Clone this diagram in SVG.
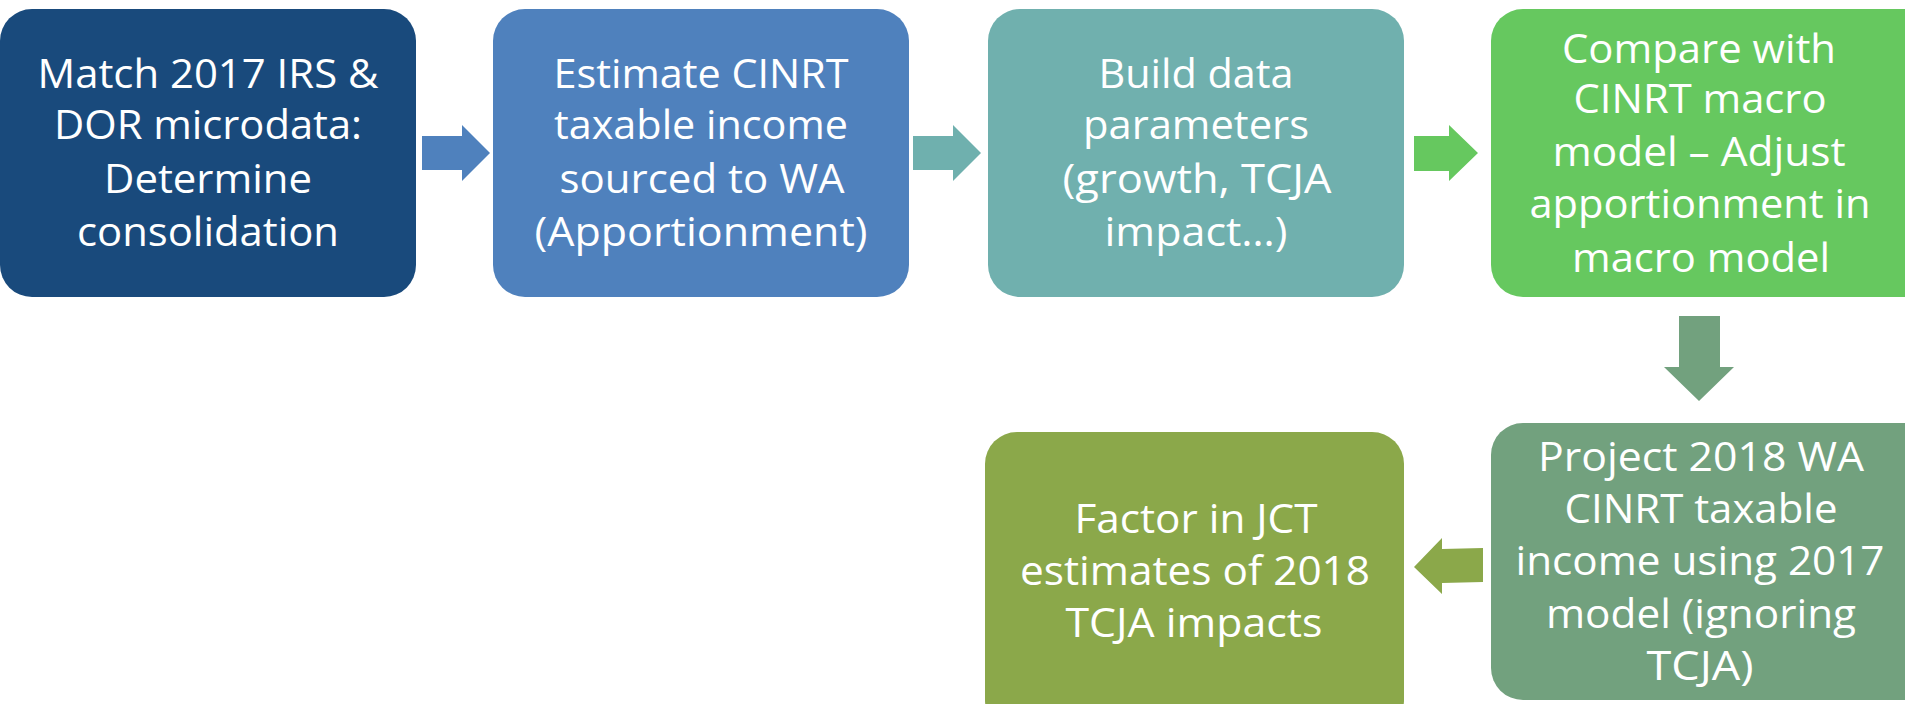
<svg xmlns="http://www.w3.org/2000/svg" width="1905" height="704" viewBox="0 0 1905 704">
<style>
text{font-family:"Open Sans","Noto Sans","Liberation Sans",sans-serif;font-size:40px;fill:#ffffff;text-anchor:middle}
</style>
<rect width="1905" height="704" fill="#ffffff"/>
<g id="connectors">
<polygon id="a1" fill="#4F81BD" points="422,136 462,136 462,125 490,153 462,181 462,170 422,170"/>
<polygon id="a2" fill="#6FB0AE" points="913,136 953,136 953,125 981,153 953,181 953,170 913,170"/>
<polygon id="a3" fill="#66C85F" points="1414,136 1449,136 1449,125 1478,153 1449,181 1449,171 1414,171"/>
<polygon id="a4" fill="#72A17E" points="1679,316 1720,316 1720,367 1734,367 1699,401 1664,367 1679,367"/>
<polygon id="a5" fill="#8BA84A" points="1483,548 1442,549 1442,538 1414,567 1442,594 1442,583 1483,582"/>
</g>
<g id="n1">
<rect x="0" y="9" width="416" height="288" rx="32" fill="#194A7C"/>
<text x="208" y="88" textLength="341" lengthAdjust="spacingAndGlyphs">Match 2017 IRS &amp;</text>
<text x="208" y="139" textLength="308" lengthAdjust="spacingAndGlyphs">DOR microdata:</text>
<text x="208" y="193" textLength="208" lengthAdjust="spacingAndGlyphs">Determine</text>
<text x="208" y="246" textLength="262" lengthAdjust="spacingAndGlyphs">consolidation</text>
</g>
<g id="n2">
<rect x="493" y="9" width="416" height="288" rx="32" fill="#4F81BD"/>
<text x="701" y="88" textLength="295" lengthAdjust="spacingAndGlyphs">Estimate CINRT</text>
<text x="701" y="139" textLength="294" lengthAdjust="spacingAndGlyphs">taxable income</text>
<text x="702" y="193" textLength="285" lengthAdjust="spacingAndGlyphs">sourced to WA</text>
<text x="701" y="246" textLength="333" lengthAdjust="spacingAndGlyphs">(Apportionment)</text>
</g>
<g id="n3">
<rect x="988" y="9" width="416" height="288" rx="32" fill="#70B0AE"/>
<text x="1196" y="88" textLength="195" lengthAdjust="spacingAndGlyphs">Build data</text>
<text x="1196" y="139" textLength="226" lengthAdjust="spacingAndGlyphs">parameters</text>
<text x="1197" y="193" textLength="269" lengthAdjust="spacingAndGlyphs">(growth, TCJA</text>
<text x="1196" y="246" textLength="183" lengthAdjust="spacingAndGlyphs">impact…)</text>
</g>
<g id="n4">
<rect x="1491" y="9" width="448" height="288" rx="32" fill="#66C85F"/>
<text x="1699" y="63" textLength="274" lengthAdjust="spacingAndGlyphs">Compare with</text>
<text x="1700" y="113" textLength="253" lengthAdjust="spacingAndGlyphs">CINRT macro</text>
<text x="1699" y="166" textLength="293" lengthAdjust="spacingAndGlyphs">model – Adjust</text>
<text x="1700" y="218" textLength="341" lengthAdjust="spacingAndGlyphs">apportionment in</text>
<text x="1701" y="272" textLength="258" lengthAdjust="spacingAndGlyphs">macro model</text>
</g>
<g id="n5">
<rect x="1491" y="423" width="448" height="277" rx="32" fill="#72A17E"/>
<text x="1701" y="471" textLength="326" lengthAdjust="spacingAndGlyphs">Project 2018 WA</text>
<text x="1701" y="523" textLength="273" lengthAdjust="spacingAndGlyphs">CINRT taxable</text>
<text x="1700" y="575" textLength="369" lengthAdjust="spacingAndGlyphs">income using 2017</text>
<text x="1701" y="628" textLength="310" lengthAdjust="spacingAndGlyphs">model (ignoring</text>
<text x="1700" y="680" textLength="107" lengthAdjust="spacingAndGlyphs">TCJA)</text>
</g>
<g id="n6">
<rect x="985" y="432" width="419" height="300" rx="32" fill="#8BA84A"/>
<text x="1196" y="533" textLength="243" lengthAdjust="spacingAndGlyphs">Factor in JCT</text>
<text x="1195" y="585" textLength="350" lengthAdjust="spacingAndGlyphs">estimates of 2018</text>
<text x="1194" y="637" textLength="257" lengthAdjust="spacingAndGlyphs">TCJA impacts</text>
</g>
</svg>
